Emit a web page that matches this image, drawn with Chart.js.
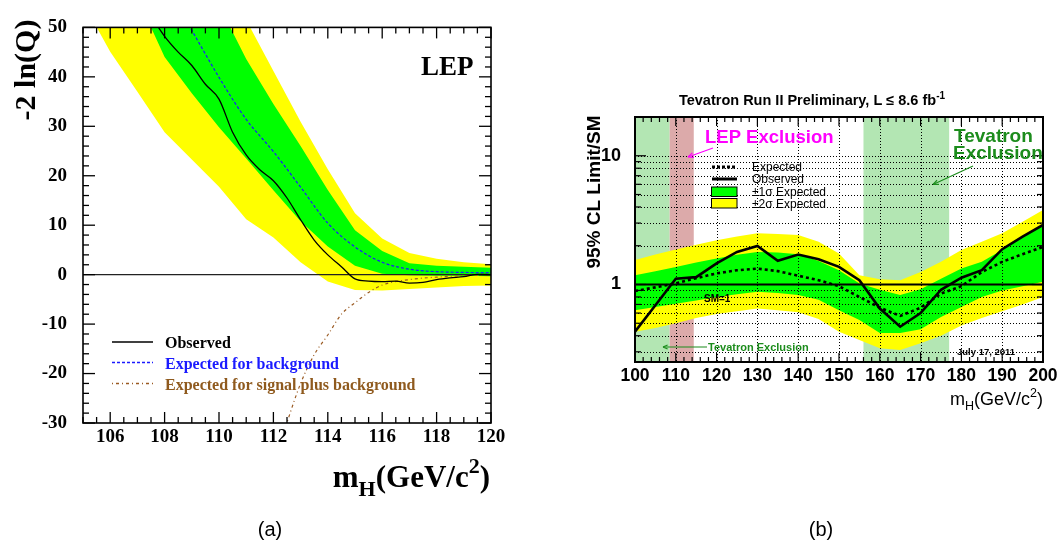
<!DOCTYPE html>
<html>
<head>
<meta charset="utf-8">
<script src="https://cdn.jsdelivr.net/npm/chart.js@4.4.1/dist/chart.umd.min.js"></script>
<style>
  html, body { margin: 0; padding: 0; background: #fff; }
  #wrap { position: relative; width: 1062px; height: 545px; }
  canvas { position: absolute; left: 0; top: 0; }
</style>
</head>
<body>
<div id="wrap">
  <canvas id="lep" width="1062" height="545"></canvas>
  <canvas id="tev" width="1062" height="545"></canvas>
</div>
<script>
// ---------- (a) LEP: -2 ln(Q) vs m_H ----------
const lepMass     = [105, 106, 107, 108, 109, 110, 111, 112, 113, 114, 115, 116, 117, 118, 119, 120];
const lepYellowHi = [130, 115, 100, 85, 72, 61, 51.5, 41.2, 30.9, 21.3, 12.4, 7.3, 4.4, 3.2, 2.5, 2.1];
const lepYellowLo = [55, 45.1, 37, 28.8, 23.3, 17.8, 11.2, 7.5, 2.5, -1.4, -3.1, -3.2, -2.9, -2.6, -2.3, -2.2];
const lepGreenHi  = [110, 95, 80, 68, 60, 54.5, 43.6, 34.5, 26, 17.1, 9, 4.8, 2.3, 1.8, 1.6, 1.4];
const lepGreenLo  = [80, 68, 56, 44, 36.7, 29.8, 23.5, 17.05, 10.8, 5.7, 1.8, 0.2, -0.1, -0.2, -0.2, -0.3];

const lepObsMass = [107.5, 108, 108.5, 109, 109.5, 110, 110.5, 111, 111.5, 112, 112.5, 113, 113.5,
                    114, 114.5, 115, 115.5, 116, 116.5, 117, 117.5, 118, 118.5, 119, 119.5, 120];
const lepObs     = [52.3, 48.2, 45, 42.3, 38.5, 35.5, 28.8, 24.2, 21.2, 19.0, 15.5, 11.1, 7.0,
                    4.0, 1.6, -0.85, -1.3, -1.4, -1.3, -1.7, -1.56, -1.0, -0.65, -0.4, 0.07, 0];

const lepBkgMass = [108.5, 109, 110, 111, 112, 113, 114, 115, 116, 117, 118, 119, 120];
const lepBkg     = [54, 49.4, 39.9, 31.4, 24.9, 17.7, 10.4, 5.6, 2.5, 1.1, 0.6, 0.45, 0.4];

const lepSbMass = [112.4, 113, 113.5, 114, 114.5, 115, 115.5, 116, 117, 118, 119, 120];
const lepSb     = [-31.5, -22, -16.2, -12.2, -8.0, -5.7, -3.6, -2.1, -1.0, -0.5, -0.2, -0.1];

const lepZeroMass = [105, 120];
const lepZero     = [0, 0];

const lepXTicks = [106, 108, 110, 112, 114, 116, 118, 120];
const lepYTicks = [-30, -20, -10, 0, 10, 20, 30, 40, 50];

// ---------- (b) Tevatron: 95% CL limit / SM ----------
const tevMass     = [100, 105, 110, 115, 120, 125, 130, 135, 140, 145, 150, 155, 160, 165, 170, 175, 180, 185, 190, 195, 200];
const tevObs      = [0.43, 0.69, 1.11, 1.14, 1.46, 1.79, 1.99, 1.53, 1.71, 1.57, 1.37, 1.08, 0.65, 0.47, 0.60, 0.91, 1.13, 1.29, 1.88, 2.35, 2.90];
const tevExp      = [0.89, 0.95, 1.02, 1.12, 1.22, 1.29, 1.33, 1.27, 1.17, 1.08, 0.97, 0.80, 0.66, 0.57, 0.66, 0.85, 0.97, 1.25, 1.50, 1.72, 1.96];
const tevGreenHi  = [1.18, 1.27, 1.37, 1.48, 1.59, 1.70, 1.79, 1.77, 1.72, 1.52, 1.29, 1.02, 0.91, 0.83, 0.92, 1.11, 1.33, 1.50, 1.85, 2.35, 2.90];
const tevGreenLo  = [0.63, 0.67, 0.71, 0.75, 0.80, 0.84, 0.88, 0.86, 0.83, 0.76, 0.63, 0.53, 0.42, 0.42, 0.45, 0.56, 0.67, 0.80, 0.90, 0.97, 1.05];
const tevYellowHi = [1.55, 1.71, 1.87, 2.04, 2.21, 2.36, 2.50, 2.47, 2.42, 2.15, 1.74, 1.18, 1.10, 1.08, 1.25, 1.50, 1.85, 2.15, 2.50, 3.07, 3.79];
const tevYellowLo = [0.43, 0.46, 0.50, 0.55, 0.59, 0.62, 0.65, 0.63, 0.61, 0.54, 0.43, 0.37, 0.32, 0.31, 0.35, 0.40, 0.48, 0.55, 0.62, 0.70, 0.80];

const smMass = [100, 200];
const smLine = [1, 1];

const tevExclusion = [[100, 108.5], [156, 177]];
const lepExclusion = [[108.5, 114.4]];

const tevXTicks = [100, 110, 120, 130, 140, 150, 160, 170, 180, 190, 200];
const tevYTicks = [1, 10];
const tevGridY  = [0.3, 0.4, 0.5, 0.6, 0.7, 0.8, 0.9, 2, 3, 4, 5, 6, 7, 8, 9];

// ---------- helpers ----------
const SERIF = '"Liberation Serif", "Times New Roman", serif';
const SANS = '"Liberation Sans", Arial, Helvetica, sans-serif';
const GREEN = '#00ff00';
const YELLOW = '#ffff00';

function pts(xs, ys) {
    return xs.map((x, i) => ({ x: x, y: ys[i] }));
}

function seg(ctx, x1, y1, x2, y2) {
    ctx.beginPath();
    ctx.moveTo(x1, y1);
    ctx.lineTo(x2, y2);
    ctx.stroke();
}

// draw a run of text pieces (for sub/superscripts)
function drawRuns(ctx, runs, x, y, align) {
    let total = 0;
    runs.forEach(r => { ctx.font = r.font; r.w = ctx.measureText(r.text).width; total += r.w; });
    let cx = align === 'right' ? x - total : align === 'center' ? x - total / 2 : x;
    ctx.textAlign = 'left';
    ctx.textBaseline = 'alphabetic';
    runs.forEach(r => {
        ctx.font = r.font;
        ctx.fillStyle = r.color || '#000';
        ctx.fillText(r.text, cx, y + (r.dy || 0));
        cx += r.w;
    });
}

function arrow(ctx, x1, y1, x2, y2, color, head) {
    ctx.strokeStyle = color;
    ctx.fillStyle = color;
    ctx.lineWidth = 1.2;
    ctx.setLineDash([]);
    seg(ctx, x1, y1, x2, y2);
    const a = Math.atan2(y2 - y1, x2 - x1);
    ctx.beginPath();
    ctx.moveTo(x2, y2);
    ctx.lineTo(x2 - head * Math.cos(a - 0.4), y2 - head * Math.sin(a - 0.4));
    ctx.moveTo(x2, y2);
    ctx.lineTo(x2 - head * Math.cos(a + 0.4), y2 - head * Math.sin(a + 0.4));
    ctx.stroke();
}

// ---------- left chart decorations ----------
const lepDecor = {
    id: 'lepDecor',
    afterDatasetsDraw(chart) {
        const { ctx, chartArea: a, scales: { x, y } } = chart;
        ctx.save();
        ctx.strokeStyle = '#000';
        ctx.lineWidth = 1.3;
        ctx.setLineDash([]);
        // x ticks, every 0.5, majors on labels
        for (let v = 105; v <= 120.001; v += 0.5) {
            const px = x.getPixelForValue(v);
            const len = Math.abs(v % 2) < 1e-6 ? 11 : 6;
            seg(ctx, px, a.bottom, px, a.bottom - len);
            seg(ctx, px, a.top, px, a.top + len);
        }
        // y ticks, every 2, majors every 10
        for (let v = -30; v <= 50.001; v += 2) {
            const py = y.getPixelForValue(v);
            const len = Math.abs(v % 10) < 1e-6 ? 12 : 6;
            seg(ctx, a.left, py, a.left + len, py);
            seg(ctx, a.right, py, a.right - len, py);
        }
        ctx.lineWidth = 1.6;
        ctx.strokeRect(a.left, a.top, a.right - a.left, a.bottom - a.top);
        ctx.restore();
    },
    afterDraw(chart) {
        const { ctx } = chart;
        ctx.save();
        // y title
        ctx.translate(35, 70);
        ctx.rotate(-Math.PI / 2);
        ctx.font = 'bold 30px ' + SERIF;
        ctx.fillStyle = '#000';
        ctx.textAlign = 'center';
        ctx.textBaseline = 'alphabetic';
        ctx.fillText('-2 ln(Q)', 0, 0);
        ctx.restore();

        ctx.save();
        ctx.font = 'bold 27px ' + SERIF;
        ctx.fillStyle = '#000';
        ctx.textAlign = 'left';
        ctx.fillText('LEP', 421, 75);

        // x title
        const big = 'bold 31px ' + SERIF, small = 'bold 22px ' + SERIF;
        drawRuns(ctx, [
            { text: 'm', font: big },
            { text: 'H', font: small, dy: 9 },
            { text: '(GeV/c', font: big },
            { text: '2', font: small, dy: -14 },
            { text: ')', font: big }
        ], 490, 487, 'right');

        // legend
        ctx.lineWidth = 1.4;
        ctx.strokeStyle = '#000';
        ctx.setLineDash([]);
        seg(ctx, 112, 342, 153, 342);
        ctx.strokeStyle = '#1a1aff';
        ctx.setLineDash([3, 2]);
        seg(ctx, 112, 362.5, 153, 362.5);
        ctx.strokeStyle = '#9a5a22';
        ctx.setLineDash([1, 3, 3, 3]);
        seg(ctx, 112, 383.5, 153, 383.5);
        ctx.setLineDash([]);
        ctx.font = 'bold 16px ' + SERIF;
        ctx.fillStyle = '#000';
        ctx.fillText('Observed', 165, 348);
        ctx.fillStyle = '#1a1aff';
        ctx.fillText('Expected for background', 165, 368.5);
        ctx.fillStyle = '#8f5a1e';
        ctx.fillText('Expected for signal plus background', 165, 389.5);

        // caption
        ctx.font = '20px ' + SANS;
        ctx.fillStyle = '#000';
        ctx.textAlign = 'center';
        ctx.fillText('(a)', 270, 536);
        ctx.restore();
    }
};

new Chart(document.getElementById('lep'), {
    type: 'line',
    data: {
        datasets: [
            { data: pts(lepMass, lepYellowHi), fill: '+1', backgroundColor: YELLOW, borderWidth: 0, pointRadius: 0, order: 10 },
            { data: pts(lepMass, lepYellowLo), fill: false, borderWidth: 0, pointRadius: 0, order: 10 },
            { data: pts(lepMass, lepGreenHi), fill: '+1', backgroundColor: GREEN, borderWidth: 0, pointRadius: 0, order: 9 },
            { data: pts(lepMass, lepGreenLo), fill: false, borderWidth: 0, pointRadius: 0, order: 9 },
            { data: pts(lepZeroMass, lepZero), borderColor: '#222', borderWidth: 1.2, pointRadius: 0, order: 5 },
            { data: pts(lepSbMass, lepSb), borderColor: '#9a5a22', borderWidth: 1.2, borderDash: [1, 3, 3, 3],
              pointRadius: 0, cubicInterpolationMode: 'monotone', order: 3 },
            { data: pts(lepBkgMass, lepBkg), borderColor: '#1a1aff', borderWidth: 1.2, borderDash: [3, 2],
              pointRadius: 0, cubicInterpolationMode: 'monotone', order: 2 },
            { data: pts(lepObsMass, lepObs), borderColor: '#000', borderWidth: 1.3,
              pointRadius: 0, cubicInterpolationMode: 'monotone', order: 1 }
        ]
    },
    options: {
        responsive: false,
        animation: false,
        devicePixelRatio: 1,
        layout: { padding: { left: 0, top: 15, right: 571, bottom: 0 } },
        plugins: { legend: { display: false }, tooltip: { enabled: false } },
        scales: {
            x: {
                type: 'linear', min: 105, max: 120,
                grid: { display: false, drawTicks: false }, border: { display: false },
                afterBuildTicks: s => { s.ticks = lepXTicks.map(v => ({ value: v })); },
                afterFit: s => { s.height = 122; },
                ticks: { font: { family: SERIF, size: 19, weight: 'bold' }, color: '#000', padding: 3, maxRotation: 0, autoSkip: false }
            },
            y: {
                min: -30, max: 50,
                grid: { display: false, drawTicks: false }, border: { display: false },
                afterBuildTicks: s => { s.ticks = lepYTicks.map(v => ({ value: v })); },
                afterFit: s => { s.width = 83; },
                ticks: { font: { family: SERIF, size: 19, weight: 'bold' }, color: '#000', padding: 16 }
            }
        }
    },
    plugins: [lepDecor]
});

// ---------- right chart decorations ----------
const tevDecor = {
    id: 'tevDecor',
    beforeDatasetsDraw(chart) {
        const { ctx, chartArea: a, scales: { x } } = chart;
        ctx.save();
        ctx.fillStyle = '#b3e6b3';
        tevExclusion.forEach(r => {
            const x1 = x.getPixelForValue(r[0]), x2 = x.getPixelForValue(r[1]);
            ctx.fillRect(x1, a.top, x2 - x1, a.bottom - a.top);
        });
        ctx.fillStyle = '#dcaaaa';
        lepExclusion.forEach(r => {
            const x1 = x.getPixelForValue(r[0]), x2 = x.getPixelForValue(r[1]);
            ctx.fillRect(x1, a.top, x2 - x1, a.bottom - a.top);
        });
        ctx.restore();
    },
    afterDatasetsDraw(chart) {
        const { ctx, chartArea: a, scales: { x, y } } = chart;
        ctx.save();
        // dotted grid
        ctx.strokeStyle = '#000';
        ctx.lineWidth = 1;
        ctx.setLineDash([1, 2]);
        tevXTicks.slice(1, -1).forEach(v => {
            const px = Math.round(x.getPixelForValue(v)) + 0.5;
            seg(ctx, px, a.top, px, a.bottom);
        });
        tevGridY.concat(tevYTicks).forEach(v => {
            const py = Math.round(y.getPixelForValue(v)) + 0.5;
            seg(ctx, a.left, py, a.right, py);
        });
        ctx.setLineDash([]);
        // ticks
        ctx.lineWidth = 1.2;
        for (let v = 100; v <= 200; v += 2) {
            const px = x.getPixelForValue(v);
            const len = v % 10 === 0 ? 9 : 5;
            seg(ctx, px, a.bottom, px, a.bottom - len);
            seg(ctx, px, a.top, px, a.top + len);
        }
        tevGridY.concat(tevYTicks).forEach(v => {
            const py = y.getPixelForValue(v);
            const len = tevYTicks.includes(v) ? 11 : 6;
            seg(ctx, a.left, py, a.left + len, py);
            seg(ctx, a.right, py, a.right - len, py);
        });
        ctx.lineWidth = 2;
        ctx.strokeRect(a.left, a.top, a.right - a.left, a.bottom - a.top);
        ctx.restore();
    },
    afterDraw(chart) {
        const { ctx } = chart;
        ctx.save();
        // title
        drawRuns(ctx, [
            { text: 'Tevatron Run II Preliminary, L \u2264 8.6 fb', font: 'bold 14.5px ' + SANS },
            { text: '-1', font: 'bold 10px ' + SANS, dy: -6 }
        ], 812, 105, 'center');

        // y title
        ctx.save();
        ctx.translate(600, 192);
        ctx.rotate(-Math.PI / 2);
        ctx.font = 'bold 19px ' + SANS;
        ctx.fillStyle = '#000';
        ctx.textAlign = 'center';
        ctx.textBaseline = 'alphabetic';
        ctx.fillText('95% CL Limit/SM', 0, 0);
        ctx.restore();

        // x title
        drawRuns(ctx, [
            { text: 'm', font: '18px ' + SANS },
            { text: 'H', font: '12.5px ' + SANS, dy: 5 },
            { text: '(GeV/c', font: '18px ' + SANS },
            { text: '2', font: '12.5px ' + SANS, dy: -8 },
            { text: ')', font: '18px ' + SANS }
        ], 1043, 405, 'right');

        // exclusion labels
        ctx.textAlign = 'left';
        ctx.font = 'bold 18.5px ' + SANS;
        ctx.fillStyle = '#ff00ff';
        ctx.fillText('LEP Exclusion', 705, 143);
        arrow(ctx, 713, 148, 688, 157, '#ff00ff', 6);

        ctx.font = 'bold 19px ' + SANS;
        ctx.fillStyle = '#1c8c1c';
        ctx.fillText('Tevatron', 954, 141.5);
        ctx.fillText('Exclusion', 953, 158.5);
        arrow(ctx, 973, 166, 933, 184.5, '#1c8c1c', 6);

        ctx.font = 'bold 11px ' + SANS;
        ctx.fillStyle = '#1c8c1c';
        ctx.fillText('Tevatron Exclusion', 708, 351);
        arrow(ctx, 707, 347, 663, 347, '#1c8c1c', 5);

        ctx.font = 'bold 10px ' + SANS;
        ctx.fillStyle = '#000';
        ctx.fillText('SM=1', 704, 302);

        ctx.font = 'bold 9.5px ' + SANS;
        ctx.fillText('July 17, 2011', 957, 355);

        // legend
        ctx.strokeStyle = '#000';
        ctx.lineWidth = 3;
        ctx.setLineDash([3, 2]);
        seg(ctx, 712, 167, 737, 167);
        ctx.setLineDash([]);
        seg(ctx, 712, 179, 737, 179);
        ctx.lineWidth = 1;
        ctx.fillStyle = GREEN;
        ctx.fillRect(711.5, 187, 25.5, 9.5);
        ctx.strokeRect(711.5, 187, 25.5, 9.5);
        ctx.fillStyle = YELLOW;
        ctx.fillRect(711.5, 198.5, 25.5, 9.5);
        ctx.strokeRect(711.5, 198.5, 25.5, 9.5);
        ctx.font = '12px ' + SANS;
        ctx.fillStyle = '#000';
        ctx.fillText('Expected', 752, 171);
        ctx.fillText('Observed', 752, 183);
        ctx.fillText('\u00b11\u03c3 Expected', 752, 195.5);
        ctx.fillText('\u00b12\u03c3 Expected', 752, 207.5);

        // caption
        ctx.font = '20px ' + SANS;
        ctx.textAlign = 'center';
        ctx.fillText('(b)', 821, 536);
        ctx.restore();
    }
};

new Chart(document.getElementById('tev'), {
    type: 'line',
    data: {
        datasets: [
            { data: pts(tevMass, tevYellowHi), fill: '+1', backgroundColor: YELLOW, borderWidth: 0, pointRadius: 0, order: 10 },
            { data: pts(tevMass, tevYellowLo), fill: false, borderWidth: 0, pointRadius: 0, order: 10 },
            { data: pts(tevMass, tevGreenHi), fill: '+1', backgroundColor: GREEN, borderWidth: 0, pointRadius: 0, order: 9 },
            { data: pts(tevMass, tevGreenLo), fill: false, borderWidth: 0, pointRadius: 0, order: 9 },
            { data: pts(smMass, smLine), borderColor: '#000', borderWidth: 2, pointRadius: 0, order: 5 },
            { data: pts(tevMass, tevExp), borderColor: '#000', borderWidth: 2.6, borderDash: [3, 3], pointRadius: 0, order: 2 },
            { data: pts(tevMass, tevObs), borderColor: '#000', borderWidth: 2.6, pointRadius: 0, order: 1 }
        ]
    },
    options: {
        responsive: false,
        animation: false,
        devicePixelRatio: 1,
        layout: { padding: { left: 540, top: 117, right: 19, bottom: 0 } },
        plugins: { legend: { display: false }, tooltip: { enabled: false } },
        scales: {
            x: {
                type: 'linear', min: 100, max: 200,
                grid: { display: false, drawTicks: false }, border: { display: false },
                afterBuildTicks: s => { s.ticks = tevXTicks.map(v => ({ value: v })); },
                afterFit: s => { s.height = 183; },
                ticks: { font: { family: SANS, size: 17.5, weight: 'bold' }, color: '#000', padding: 4, maxRotation: 0, autoSkip: false }
            },
            y: {
                type: 'logarithmic', min: 0.25, max: 20,
                grid: { display: false, drawTicks: false }, border: { display: false },
                afterBuildTicks: s => { s.ticks = tevYTicks.map(v => ({ value: v })); },
                afterFit: s => { s.width = 95; },
                ticks: { font: { family: SANS, size: 18, weight: 'bold' }, color: '#000', padding: 14,
                         callback: v => String(v) }
            }
        }
    },
    plugins: [tevDecor]
});
</script>
</body>
</html>
